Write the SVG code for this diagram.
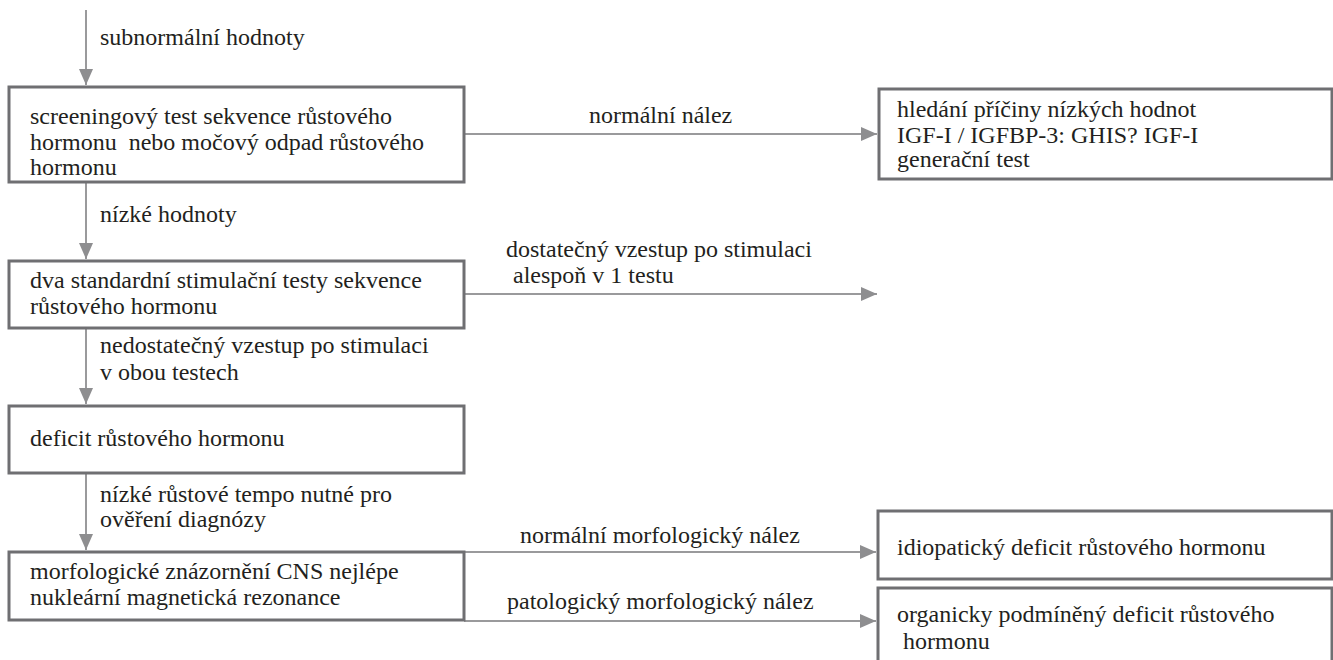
<svg xmlns="http://www.w3.org/2000/svg" width="1333" height="660" viewBox="0 0 1333 660">
<style>
.box{fill:#ffffff;stroke:#6f6f72;stroke-width:3}
.con{stroke:#9a9a9c;stroke-width:2;fill:none;marker-end:url(#arr)}
text{font-size:24px;fill:#231f20}
</style>
<defs>
<marker id="arr" markerUnits="userSpaceOnUse" markerWidth="16" markerHeight="14" refX="16" refY="7" orient="auto">
<path d="M0,0 L16,7 L0,14 z" fill="#8e8e90"/>
</marker>
</defs>
<rect width="1333" height="660" fill="#ffffff"/>
<g id="connectors" font-family="Liberation Serif, DejaVu Serif, serif">
<line class="con" x1="86" y1="10" x2="86" y2="85"/>
<line class="con" x1="464" y1="134" x2="877" y2="134"/>
<line class="con" x1="86" y1="182" x2="86" y2="259"/>
<line class="con" x1="464" y1="294" x2="877" y2="294"/>
<line class="con" x1="86" y1="328" x2="86" y2="404"/>
<line class="con" x1="86" y1="473" x2="86" y2="550"/>
<line class="con" x1="464" y1="552" x2="876" y2="552"/>
<line class="con" x1="464" y1="621" x2="876" y2="621"/>
<text x="100" y="45">subnormální hodnoty</text>
<text x="589" y="123">normální nález</text>
<text x="100" y="222">nízké hodnoty</text>
<text x="506" y="257">dostatečný vzestup po stimulaci</text>
<text x="507" y="283" xml:space="preserve"> alespoň v 1 testu</text>
<text x="100" y="353">nedostatečný vzestup po stimulaci</text>
<text x="100" y="380">v obou testech</text>
<text x="100" y="502">nízké růstové tempo nutné pro</text>
<text x="100" y="527">ověření diagnózy</text>
<text x="520" y="543">normální morfologický nález</text>
<text x="507" y="609">patologický morfologický nález</text>
</g>
<g id="nodes" font-family="Liberation Serif, DejaVu Serif, serif">
<g id="n1">
<rect class="box" x="9" y="87" width="455" height="95"/>
<text x="30" y="124">screeningový test sekvence růstového</text>
<text x="30" y="150" xml:space="preserve">hormonu  nebo močový odpad růstového</text>
<text x="30" y="175">hormonu</text>
</g>
<g id="n2">
<rect class="box" x="879" y="89" width="453" height="90"/>
<text x="897" y="117">hledání příčiny nízkých hodnot</text>
<text x="897" y="143">IGF-I / IGFBP-3: GHIS? IGF-I</text>
<text x="897" y="167">generační test</text>
</g>
<g id="n3">
<rect class="box" x="9" y="261" width="455" height="67"/>
<text x="30" y="288">dva standardní stimulační testy sekvence</text>
<text x="30" y="314">růstového hormonu</text>
</g>
<g id="n4">
<rect class="box" x="9" y="406" width="455" height="67"/>
<text x="30" y="446">deficit růstového hormonu</text>
</g>
<g id="n5">
<rect class="box" x="9" y="552" width="455" height="68"/>
<text x="30" y="579">morfologické znázornění CNS nejlépe</text>
<text x="30" y="605">nukleární magnetická rezonance</text>
</g>
<g id="n6">
<rect class="box" x="878" y="511" width="454" height="68"/>
<text x="897" y="555">idiopatický deficit růstového hormonu</text>
</g>
<g id="n7">
<rect class="box" x="878" y="588" width="454" height="90"/>
<text x="897" y="622">organicky podmíněný deficit růstového</text>
<text x="897" y="649" xml:space="preserve"> hormonu</text>
</g>
</g>
</svg>
